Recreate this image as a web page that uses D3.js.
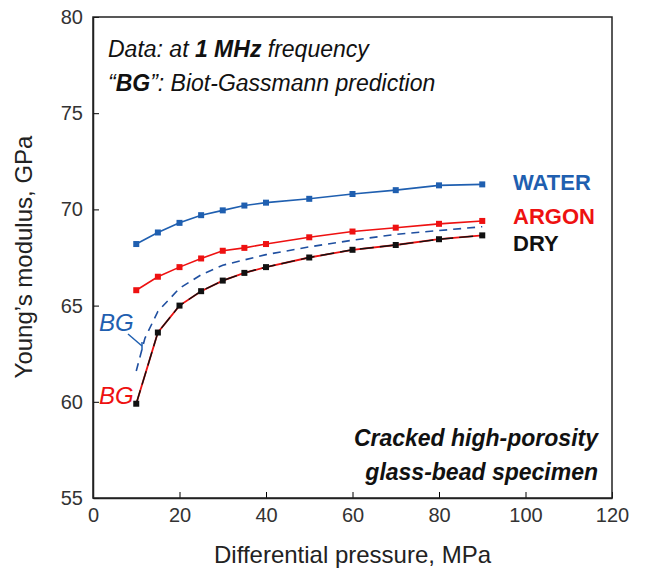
<!DOCTYPE html>
<html><head><meta charset="utf-8">
<script src="https://cdn.jsdelivr.net/npm/d3@7"></script>
<style>body{margin:0;background:#fff}text{font-family:Arial,"Liberation Sans",sans-serif}</style>
</head><body>
<svg id="c" width="646" height="573"></svg>
<script>
var pressure = [10,15,20,25,30,35,40,50,60,70,80,90];
var water = [68.2,68.8,69.3,69.7,69.95,70.2,70.35,70.55,70.8,71.0,71.25,71.3];
var argon = [65.8,66.5,67.0,67.45,67.85,68.0,68.2,68.55,68.85,69.05,69.25,69.4];
var dry = [59.9,63.6,65.0,65.75,66.3,66.7,67.0,67.5,67.9,68.15,68.45,68.65];
var bgP = [10,12,15,20,25,30,40,50,60,70,80,90];
var bgWater = [61.6,63.3,64.7,65.9,66.6,67.1,67.65,68.05,68.4,68.7,68.9,69.1];
var xTicks = [0,20,40,60,80,100,120];
var yTicks = [55,60,65,70,75,80];

var svg = d3.select('#c');
var x = d3.scaleLinear().domain([0,120]).range([93,612]);
var y = d3.scaleLinear().domain([55,80]).range([498,17]);

svg.append('g').attr('transform','translate(0,498)')
	.call(d3.axisBottom(x).tickValues(xTicks).tickSizeInner(-6).tickSizeOuter(0).tickPadding(10))
	.call(g => g.selectAll('text').attr('font-size',20).attr('fill','#333'));
svg.append('g').attr('transform','translate(93,0)')
	.call(d3.axisLeft(y).tickValues(yTicks).tickSizeInner(-6).tickSizeOuter(0).tickPadding(10))
	.call(g => g.selectAll('text').attr('font-size',20).attr('fill','#333'));
svg.selectAll('.domain').attr('stroke','#222').attr('stroke-width',1.5);
svg.append('rect').attr('x',93).attr('y',17).attr('width',519).attr('height',481)
	.attr('fill','none').attr('stroke','#222').attr('stroke-width',1.5);

var line = d3.line().x(d => x(d[0])).y(d => y(d[1]));
function series(vals, col, mark) {
	var pts = pressure.map((p,i) => [p, vals[i]]);
	svg.append('path').attr('d', line(pts)).attr('fill','none').attr('stroke',col).attr('stroke-width',1.6);
	svg.selectAll(null).data(pts).enter().append('rect')
		.attr('x', d => x(d[0])-3).attr('y', d => y(d[1])-3).attr('width',6).attr('height',6).attr('fill',mark);
}
series(water,'#1f5fb0','#1f5fb0');
series(argon,'#ee1111','#ee1111');
svg.append('path').attr('d', line(bgP.map((p,i) => [p, bgWater[i]])))
	.attr('fill','none').attr('stroke','#1f4fa0').attr('stroke-width',1.6).attr('stroke-dasharray','8,6');
// argon BG coincides with dry curve: red under black
var dryPts = pressure.map((p,i) => [p, dry[i]]);
svg.append('path').attr('d', line(dryPts)).attr('fill','none').attr('stroke','#ee1111').attr('stroke-width',1.8);
svg.append('path').attr('d', line(dryPts)).attr('fill','none').attr('stroke','#111').attr('stroke-width',1.4)
	.attr('stroke-dasharray','14,6');
svg.selectAll(null).data(dryPts).enter().append('rect')
	.attr('x', d => x(d[0])-3).attr('y', d => y(d[1])-3).attr('width',6).attr('height',6).attr('fill','#111');

// labels
svg.append('text').attr('x',513).attr('y',190).attr('font-size',22).attr('font-weight','bold').attr('fill','#1f5fb0').text('WATER');
svg.append('text').attr('x',513).attr('y',224).attr('font-size',22).attr('font-weight','bold').attr('fill','#ee1111').text('ARGON');
svg.append('text').attr('x',513).attr('y',251).attr('font-size',22).attr('font-weight','bold').attr('fill','#111').text('DRY');
svg.append('text').attr('x',99).attr('y',331).attr('font-size',24).attr('font-style','italic').attr('fill','#1f5fb0').text('BG');
svg.append('line').attr('x1',128).attr('y1',334).attr('x2',142).attr('y2',346).attr('stroke','#1f5fb0').attr('stroke-width',1.5);
svg.append('line').attr('x1',142).attr('y1',342).attr('x2',142).attr('y2',350).attr('stroke','#1f5fb0').attr('stroke-width',1.5);
svg.append('text').attr('x',99).attr('y',404).attr('font-size',24).attr('font-style','italic').attr('fill','#ee1111').text('BG');

var t1 = svg.append('text').attr('x',108).attr('y',57).attr('font-size',23).attr('font-style','italic').attr('fill','#111');
t1.append('tspan').text('Data: at ');
t1.append('tspan').attr('font-weight','bold').text('1 MHz');
t1.append('tspan').text(' frequency');
var t2 = svg.append('text').attr('x',108).attr('y',91).attr('font-size',23).attr('font-style','italic').attr('fill','#111');
t2.append('tspan').text('\u201C');
t2.append('tspan').attr('font-weight','bold').text('BG');
t2.append('tspan').text('\u201D: Biot-Gassmann prediction');

svg.append('text').attr('x',598).attr('y',446).attr('text-anchor','end').attr('font-size',23).attr('font-weight','bold').attr('font-style','italic').attr('fill','#111').text('Cracked high-porosity');
svg.append('text').attr('x',598).attr('y',480).attr('text-anchor','end').attr('font-size',23).attr('font-weight','bold').attr('font-style','italic').attr('fill','#111').text('glass-bead specimen');

svg.append('text').attr('x',x(60)).attr('y',563).attr('text-anchor','middle').attr('font-size',24).attr('fill','#222').text('Differential pressure, MPa');
svg.append('text').attr('transform','translate(32,257) rotate(-90)').attr('text-anchor','middle').attr('font-size',24).attr('fill','#222').text('Young\u2019s modulus, GPa');
</script>
</body></html>
